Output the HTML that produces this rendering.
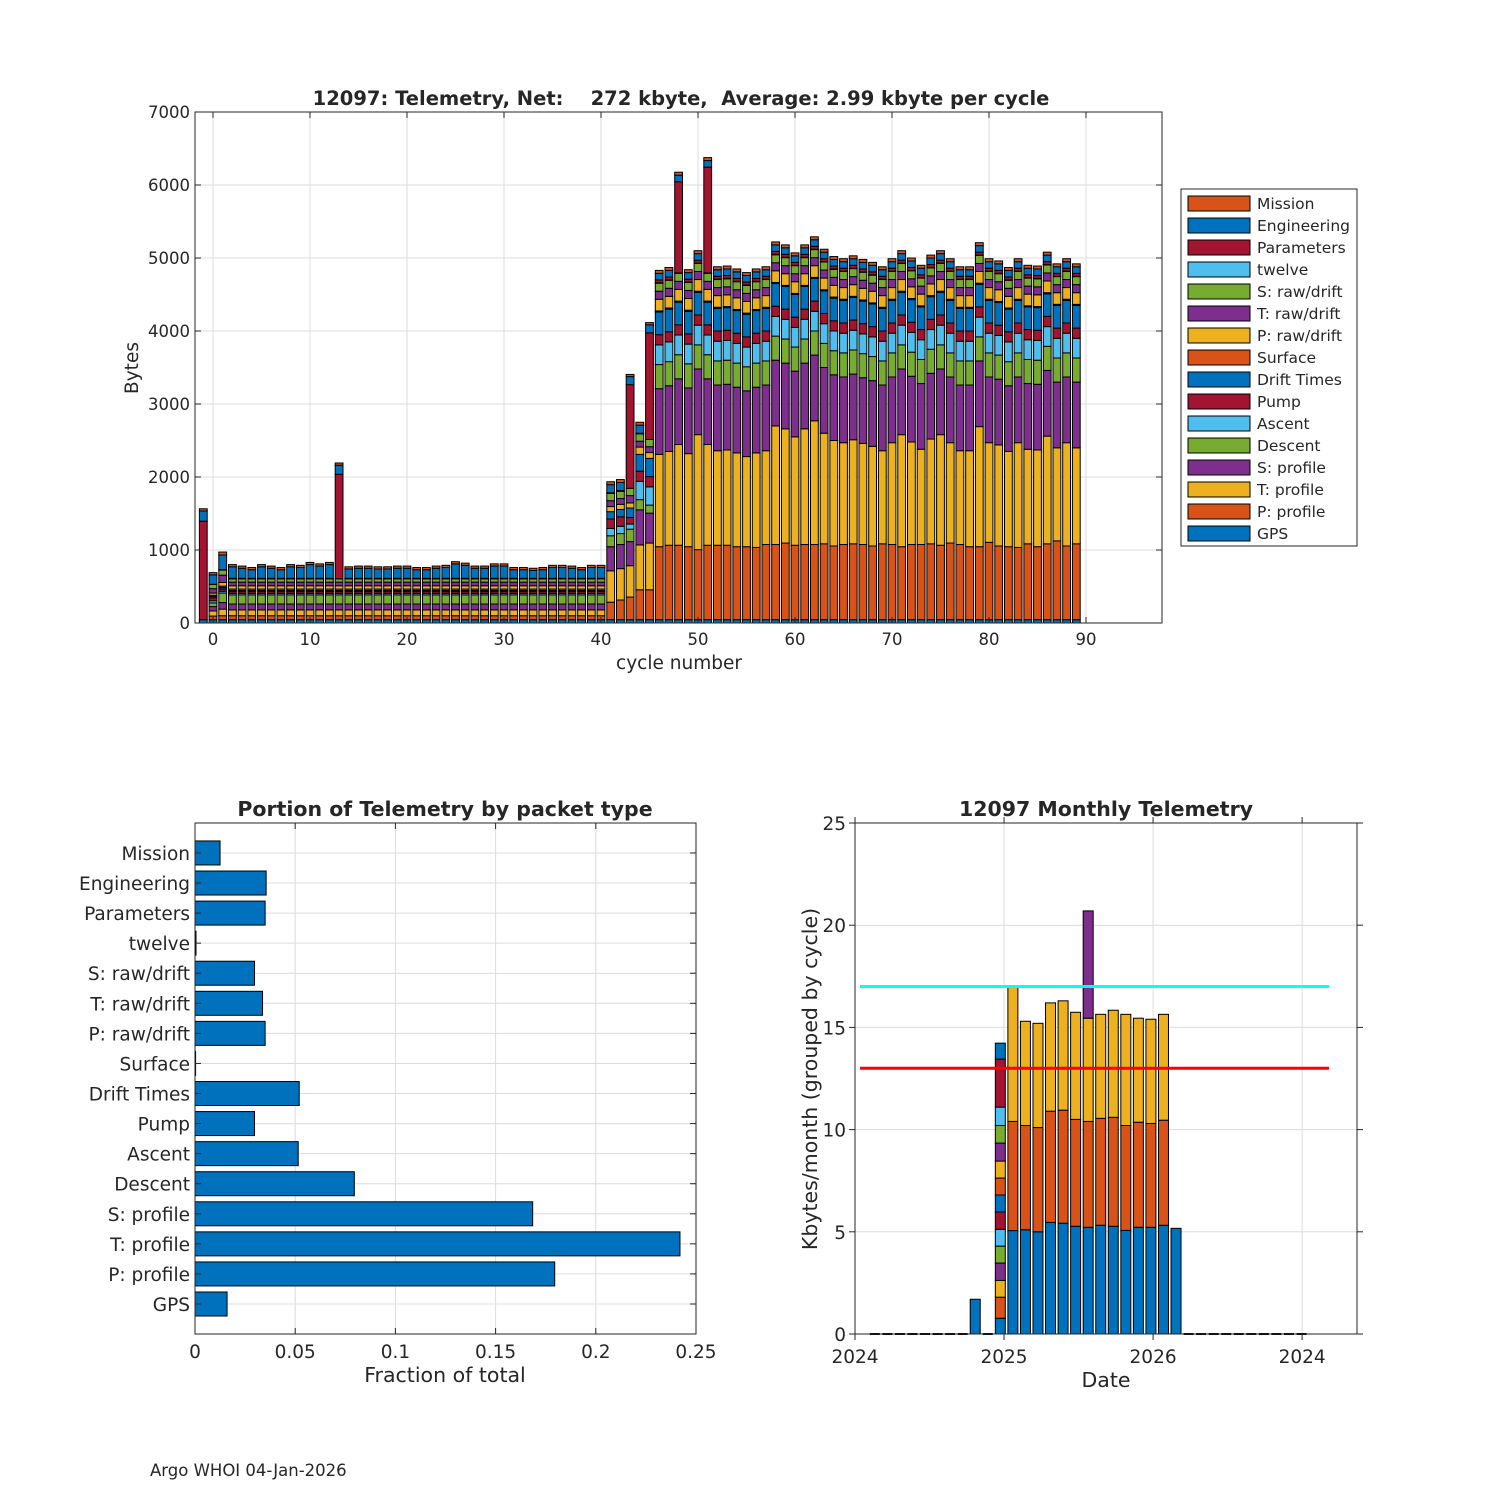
<!DOCTYPE html>
<html><head><meta charset="utf-8"><style>
html,body{margin:0;padding:0;background:#fff}
svg{display:block}
text{font-family:"DejaVu Sans","Liberation Sans",sans-serif;fill:#262626}
</style></head><body>
<svg id="root" width="1500" height="1500" viewBox="0 0 1500 1500" xmlns="http://www.w3.org/2000/svg">
<rect width="1500" height="1500" fill="#fff"/>
<g id="top"></g>
<g id="bl"></g>
<g id="br"></g>
<text x="150" y="1476" font-size="16.5" fill="#000">Argo WHOI 04-Jan-2026</text>
</svg>
<script>
// ===== Top chart data (cycles -1..89) =====
const cycles = [-1,0,1,2,3,4,5,6,7,8,9,10,11,12,13,14,15,16,17,18,19,20,21,22,23,24,25,26,27,28,29,30,31,32,33,34,35,36,37,38,39,40,41,42,43,44,45,46,47,48,49,50,51,52,53,54,55,56,57,58,59,60,61,62,63,64,65,66,67,68,69,70,71,72,73,74,75,76,77,78,79,80,81,82,83,84,85,86,87,88,89];
const seriesNames = ["GPS","P: profile","T: profile","S: profile","Descent","Ascent","Pump","Drift Times","Surface","P: raw/drift","T: raw/drift","S: raw/drift","twelve","Parameters","Engineering","Mission"];
const yTicks = [0,1000,2000,3000,4000,5000,6000,7000];
const xTicks = [0,10,20,30,40,50,60,70,80,90];
const gps = [45,45,45, 45,45,45,45,45,45,45,45,45,45, 45,45,45,45,45,45,45,45,45,45, 45,45,45,45,45,45,45,45,45,45, 45,45,45,45,45,45,45,45,45, 45,45,45,45,45, 45,45,45,45,45,45,45,45,45,45, 45,45,45,45,45,45,45,45,45,45, 45,45,45,45,45,45,45,45,45,45, 45,45,45,45,45,45,45,45,45,45, 45,45,45,45];
const pProfile = [0,50,55, 55,55,55,55,55,55,55,55,55,55, 55,55,55,55,55,55,55,55,55,55, 55,55,55,55,55,55,55,55,55,55, 55,55,55,55,55,55,55,55,55, 240,270,310,410,410, 1000,1020,1020,1000,960,1020,1020,1020,1000,1000, 990,1030,1030,1050,1020,1030,1030,1040,1010,1030, 1040,1030,1010,1040,1030,1000,1030,1030,1040,1020, 1050,1030,1000,1000,1060,1010,1000,990,1040,1000, 1040,1080,1010,1040];
const tProfile = [0,70,90, 80,80,80,80,80,80,80,80,80,80, 80,80,80,80,80,80,80,80,80,80, 80,80,80,80,80,80,80,80,80,80, 80,80,80,80,80,80,80,80,80, 430,430,430,615,640, 1265,1285,1380,1275,1575,1380,1295,1305,1285,1235, 1295,1285,1625,1565,1485,1585,1695,1515,1445,1395, 1425,1385,1365,1275,1395,1535,1405,1305,1435,1515, 1375,1285,1315,1645,1365,1385,1305,1435,1295,1325, 1475,1275,1415,1315];
const sProfile = [0,60,90, 80,80,80,80,80,80,80,80,80,80, 80,80,80,80,80,80,80,80,80,80, 80,80,80,80,80,80,80,80,80,80, 80,80,80,80,80,80,80,80,80, 330,330,330,480,410, 900,900,900,900,900,900,900,900,900,900, 900,900,900,900,900,900,900,900,900,900, 900,900,900,900,900,900,900,900,900,900, 900,900,900,900,900,900,900,900,900,900, 900,900,900,900];
const descent = [0,50,130, 125,125,125,125,125,125,125,125,125,125, 125,125,125,125,125,125,125,125,125,125, 125,125,125,125,125,125,125,125,125,125, 125,125,125,125,125,125,125,125,125, 150,150,170,140,110, 330,330,330,330,330,330,330,330,330,330, 330,330,330,330,330,330,330,330,330,330, 330,330,330,330,330,330,330,330,330,330, 330,330,330,330,330,330,330,330,330,330, 330,330,330,330];
const ascent = [0,30,25, 20,20,20,20,20,20,20,20,20,20, 20,20,20,20,20,20,20,20,20,20, 20,20,20,20,20,20,20,20,20,20, 20,20,20,20,20,20,20,20,20, 100,100,70,250,250, 270,270,270,270,270,270,270,270,270,270, 270,270,270,270,270,270,270,270,270,270, 270,270,270,270,270,270,270,270,270,270, 270,270,270,270,270,270,270,270,270,270, 270,270,270,270];
const pump = [0,40,30, 25,25,25,25,25,25,25,25,25,25, 25,25,25,25,25,25,25,25,25,25, 25,25,25,25,25,25,25,25,25,25, 25,25,25,25,25,25,25,25,25, 130,130,90,140,140, 140,140,140,140,140,140,140,140,140,140, 140,140,140,140,140,140,140,140,140,140, 140,140,140,140,140,140,140,140,140,140, 140,140,140,140,140,140,140,140,140,140, 140,140,140,140];
const driftTimes = [0,20,20, 15,15,15,15,15,15,15,15,15,15, 15,15,15,15,15,15,15,15,15,15, 15,15,15,15,15,15,15,15,15,15, 15,15,15,15,15,15,15,15,15, 100,100,130,230,250, 310,310,310,310,310,310,310,310,310,310, 310,310,310,310,310,310,310,310,310,310, 310,310,310,310,310,310,310,310,310,310, 310,310,310,310,310,310,310,310,310,310, 310,310,310,310];
const surface = [0,15,20, 20,20,20,20,20,20,20,20,20,20, 20,20,20,20,20,20,20,20,20,20, 20,20,20,20,20,20,20,20,20,20, 20,20,20,20,20,20,20,20,20, 0,0,0,0,0, 15,15,15,15,15,15,15,15,15,15, 15,15,15,15,15,15,15,15,15,15, 15,15,15,15,15,15,15,15,15,15, 15,15,15,15,15,15,15,15,15,15, 15,15,15,15];
const pRaw = [0,30,50, 45,45,45,45,45,45,45,45,45,45, 45,45,45,45,45,45,45,45,45,45, 45,45,45,45,45,45,45,45,45,45, 45,45,45,45,45,45,45,45,45, 70,70,70,100,80, 160,160,160,160,160,160,160,160,160,160, 160,160,160,160,160,160,160,160,160,160, 160,160,160,160,160,160,160,160,160,160, 160,160,160,160,160,160,160,160,160,160, 160,160,160,160];
const tRaw = [0,60,100, 50,50,50,50,50,50,50,50,50,50, 50,50,50,50,50,50,50,50,50,50, 50,50,50,50,50,50,50,50,50,50, 50,50,50,50,50,50,50,50,50, 80,80,100,80,80, 110,110,110,110,110,110,110,110,110,110, 110,110,110,110,110,110,110,110,110,110, 110,110,110,110,110,110,110,110,110,110, 110,110,110,110,110,110,110,110,110,110, 110,110,110,110];
const sRaw = [0,60,70, 45,45,45,45,45,45,45,45,45,45, 45,45,45,45,45,45,45,45,45,45, 45,45,45,45,45,45,45,45,45,45, 45,45,45,45,45,45,45,45,45, 100,100,100,100,100, 110,110,110,110,110,110,110,110,110,110, 110,110,110,110,110,110,110,110,110,110, 110,110,110,110,110,110,110,110,110,110, 110,110,110,110,110,110,110,110,110,110, 110,110,110,110];
const twelve = [0,0,2, 2,2,2,2,2,2,2,2,2,2, 2,2,2,2,2,2,2,2,2,2, 2,2,2,2,2,2,2,2,2,2, 2,2,2,2,2,2,2,2,2, 0,0,0,0,0, 5,5,5,5,5,5,5,5,5,5, 5,5,5,5,5,5,5,5,5,5, 5,5,5,5,5,5,5,5,5,5, 5,5,5,5,5,5,5,5,5,5, 5,5,5,5];
const parameters = [1350,0,5, 5,5,5,5,5,5,5,5,5,5, 5,1430,5,5,5,5,5,5,5,5, 5,5,5,5,5,5,5,5,5,5, 5,5,5,5,5,5,5,5,5, 10,10,1420,10,1460, 40,40,1250,40,40,1450,40,40,40,40, 40,40,40,40,40,40,40,40,40,40, 40,40,40,40,40,40,40,40,40,40, 40,40,40,40,40,40,40,40,40,40, 40,40,40,40];
const engineering = [140,130,200, 158,138,118,158,138,118,158,148,188,168, 188,125,128,138,138,128,128,138,138,118, 118,138,148,198,178,138,138,168,168,118, 118,108,118,148,148,138,118,148,148, 110,110,110,110,110, 90,90,90,90,90,90,90,90,90,90, 90,90,90,90,90,90,90,90,90,90, 90,90,90,90,90,90,90,90,90,90, 90,90,90,90,90,90,90,90,90,90, 90,90,90,90];
const mission = [30,30,40, 30,30,30,30,30,30,30,30,30,30, 30,30,30,30,30,30,30,30,30,30, 30,30,30,30,30,30,30,30,30,30, 30,30,30,30,30,30,30,30,30, 40,40,30,40,30, 40,40,40,40,40,40,40,40,40,40, 40,40,40,40,40,40,40,40,40,40, 40,40,40,40,40,40,40,40,40,40, 40,40,40,40,40,40,40,40,40,40, 40,40,40,40];

// ===== Bottom-left data =====
const packetCats = ["GPS","P: profile","T: profile","S: profile","Descent","Ascent","Pump","Drift Times","Surface","P: raw/drift","T: raw/drift","S: raw/drift","twelve","Parameters","Engineering","Mission"];
const packetFrac = [0.016,0.1795,0.242,0.1685,0.0795,0.0515,0.0297,0.052,0.0003,0.035,0.0337,0.0297,0.0005,0.035,0.0355,0.0125];
const fracTicks = [0,0.05,0.1,0.15,0.2,0.25];
const fracTickLabels = ["0","0.05","0.1","0.15","0.2","0.25"];

// ===== Bottom-right data =====
const barMonths = [9,11,12,13,14,15,16,17,18,19,20,21,22,23,24,25];
const zeroMonths = [1,2,3,4,5,6,7,8,10,26,27,28,29,30,31,32,33,34,35];
const mGps = [1.7,0.77,5.06,5.1,5.0,5.46,5.42,5.27,5.22,5.32,5.27,5.07,5.22,5.22,5.32,5.17];
const mP = [0,1.03,5.34,5.1,5.1,5.44,5.53,5.23,5.18,5.23,5.33,5.13,5.14,5.08,5.14,0];
const mT = [0,0.82,6.6,5.1,5.1,5.3,5.35,5.24,5.05,5.09,5.24,5.44,5.09,5.1,5.18,0];
const mS = [0,0.85,0,0,0,0,0,0,5.25,0,0,0,0,0,0,0];
const mDescent = [0,0.83,0,0,0,0,0,0,0,0,0,0,0,0,0,0];
const mAscent = [0,0.82,0,0,0,0,0,0,0,0,0,0,0,0,0,0];
const mPump = [0,0.85,0,0,0,0,0,0,0,0,0,0,0,0,0,0];
const mDrift = [0,0.83,0,0,0,0,0,0,0,0,0,0,0,0,0,0];
const mSurface = [0,0.83,0,0,0,0,0,0,0,0,0,0,0,0,0,0];
const mPRaw = [0,0.83,0,0,0,0,0,0,0,0,0,0,0,0,0,0];
const mTRaw = [0,0.88,0,0,0,0,0,0,0,0,0,0,0,0,0,0];
const mSRaw = [0,0.86,0,0,0,0,0,0,0,0,0,0,0,0,0,0];
const mTwelve = [0,0.9,0,0,0,0,0,0,0,0,0,0,0,0,0,0];
const mParams = [0,2.35,0,0,0,0,0,0,0,0,0,0,0,0,0,0];
const mEng = [0,0.78,0,0,0,0,0,0,0,0,0,0,0,0,0,0];
const mMission = [0,0,0,0,0,0,0,0,0,0,0,0,0,0,0,0];
const refLines = [17,13];
const kTicks = [0,5,10,15,20,25];
const dateTickMonths = [0,12,24,36];
const dateTickLabels = ["2024","2025","2026","2024"];

const colors = ["#0072BD","#D95319","#EDB120","#7E2F8E","#77AC30","#4DBEEE","#A2142F","#0072BD","#D95319","#EDB120","#7E2F8E","#77AC30","#4DBEEE","#A2142F","#0072BD","#D95319"];
const NS = "http://www.w3.org/2000/svg";
function mk(tag, attrs, parent){const e=document.createElementNS(NS,tag);for(const k in attrs)e.setAttribute(k,attrs[k]);parent.appendChild(e);return e;}
function txt(s, attrs, parent){const e=mk("text",attrs,parent);e.textContent=s;return e;}

// ---------- TOP CHART ----------
(function(){
  const g=document.getElementById("top");
  const L=195,R=1162,T=112,B=623;
  const xs=c=>213+c*9.7;
  const ys=v=>B-v*(B-T)/7000;
  const allSeries=[gps,pProfile,tProfile,sProfile,descent,ascent,pump,driftTimes,surface,pRaw,tRaw,sRaw,twelve,parameters,engineering,mission];
  xTicks.forEach(t=>{const l=mk("line",{x1:xs(t),x2:xs(t),y1:T,y2:B,stroke:"#dcdcdc","stroke-width":1},g);});
  yTicks.forEach(t=>{const l=mk("line",{x1:L,x2:R,y1:ys(t),y2:ys(t),stroke:"#dcdcdc","stroke-width":1},g);});
  const bw=7.8;
  cycles.forEach((c,i)=>{
    let acc=0;
    const bg=mk("g",{},g);
    
    
    allSeries.forEach((s,k)=>{
      const v=s[i]; if(!v) return;
      const y0=ys(acc), y1=ys(acc+v);
      const r=mk("rect",{x:xs(c)-bw/2,y:y1,width:bw,height:y0-y1,fill:colors[k],stroke:"#000","stroke-width":1},bg);
      
      
      acc+=v;
    });
  });
  const bx=mk("rect",{x:L,y:T,width:R-L,height:B-T,fill:"none",stroke:"#262626","stroke-width":1},g);
  
  
  xTicks.forEach(t=>{
    mk("line",{x1:xs(t),x2:xs(t),y1:B,y2:B-6,stroke:"#262626"},g);
    mk("line",{x1:xs(t),x2:xs(t),y1:T,y2:T+6,stroke:"#262626"},g);
    const e=txt(String(t),{x:xs(t),y:B+22,"font-size":16.5,"text-anchor":"middle"},g);
    
    
  });
  yTicks.forEach(t=>{
    mk("line",{x1:L,x2:L+6,y1:ys(t),y2:ys(t),stroke:"#262626"},g);
    mk("line",{x1:R,x2:R-6,y1:ys(t),y2:ys(t),stroke:"#262626"},g);
    const e=txt(String(t),{x:L-5,y:ys(t)+6,"font-size":16.5,"text-anchor":"end"},g);
    
    
  });
  let e=txt("cycle number",{x:679,y:669,"font-size":18.5,"text-anchor":"middle"},g);
  
  e=txt("Bytes",{x:0,y:0,"font-size":18.5,"text-anchor":"middle",transform:"translate(138,368) rotate(-90)"},g);
  
  e=txt("12097: Telemetry, Net:    272 kbyte,  Average: 2.99 kbyte per cycle",{x:681,y:105,"font-size":19.5,"font-weight":"bold","text-anchor":"middle",fill:"#000"},g);
  e.style.whiteSpace="pre";
  
  const lg=mk("g",{},g);
  
  
  mk("rect",{x:1181,y:189,width:176,height:357,fill:"#fff",stroke:"#262626","stroke-width":1},lg);
  for(let j=0;j<16;j++){
    const k=15-j; const y=203+j*22;
    const it=mk("g",{},lg);
    
    
    mk("rect",{x:1188,y:y-7,width:62,height:15,fill:colors[k],stroke:"#000","stroke-width":1},it);
    txt(seriesNames[k],{x:1257,y:y+6,"font-size":15.5},it);
  }
})();

// ---------- BOTTOM-LEFT ----------
(function(){
  const g=document.getElementById("bl");
  const L=195,R=696,T=823,B=1334;
  const xs=v=>L+v*(R-L)/0.25;
  const yc=k=>1304-k*30.07;
  fracTicks.forEach(t=>{const l=mk("line",{x1:xs(t),x2:xs(t),y1:T,y2:B,stroke:"#dcdcdc"},g);});
  packetCats.forEach((c,k)=>{const l=mk("line",{x1:L,x2:R,y1:yc(k),y2:yc(k),stroke:"#dcdcdc"},g);});
  packetCats.forEach((c,k)=>{
    const w=xs(packetFrac[k])-L;
    const r=mk("rect",{x:L,y:yc(k)-12,width:Math.max(w,0.5),height:24,fill:"#0072BD",stroke:"#000","stroke-width":1},g);
    
    
    mk("line",{x1:L,x2:L+6,y1:yc(k),y2:yc(k),stroke:"#262626"},g);
    mk("line",{x1:R,x2:R-6,y1:yc(k),y2:yc(k),stroke:"#262626"},g);
    const e=txt(c,{x:L-5,y:yc(k)+7,"font-size":18.5,"text-anchor":"end"},g);
    
    
  });
  const bx=mk("rect",{x:L,y:T,width:R-L,height:B-T,fill:"none",stroke:"#262626"},g);
  
  fracTicks.forEach((t,i)=>{
    mk("line",{x1:xs(t),x2:xs(t),y1:B,y2:B-6,stroke:"#262626"},g);
    mk("line",{x1:xs(t),x2:xs(t),y1:T,y2:T+6,stroke:"#262626"},g);
    const e=txt(fracTickLabels[i],{x:xs(t),y:B+24,"font-size":18.5,"text-anchor":"middle"},g);
    
  });
  let e=txt("Fraction of total",{x:445,y:1382,"font-size":20.5,"text-anchor":"middle"},g);
  
  e=txt("Portion of Telemetry by packet type",{x:445,y:816,"font-size":20.5,"font-weight":"bold","text-anchor":"middle",fill:"#000"},g);
  
})();

// ---------- BOTTOM-RIGHT ----------
(function(){
  const g=document.getElementById("br");
  const L=855,R=1357,T=823,B=1334;
  const xm=m=>856+12.55*(m+0.5);
  const xt=m=>855+12.42*m;
  const ys=v=>B-v*(B-T)/25;
  dateTickMonths.forEach(m=>{const l=mk("line",{x1:xt(m),x2:xt(m),y1:T,y2:B,stroke:"#dcdcdc"},g);});
  kTicks.forEach(t=>{const l=mk("line",{x1:L,x2:R,y1:ys(t),y2:ys(t),stroke:"#dcdcdc"},g);});
  const mSeries=[mGps,mP,mT,mS,mDescent,mAscent,mPump,mDrift,mSurface,mPRaw,mTRaw,mSRaw,mTwelve,mParams,mEng,mMission];
  const bw=10;
  zeroMonths.forEach(m=>{
    const l=mk("line",{x1:xm(m)-bw/2,x2:xm(m)+bw/2,y1:B,y2:B,stroke:"#000","stroke-width":2},g);
    
  });
  barMonths.forEach((m,i)=>{
    let acc=0;
    const bg=mk("g",{},g);
    
    
    mSeries.forEach((s,k)=>{
      const v=s[i]; if(!v) return;
      const y0=ys(acc),y1=ys(acc+v);
      const r=mk("rect",{x:xm(m)-bw/2,y:y1,width:bw,height:y0-y1,fill:colors[k],stroke:"#000","stroke-width":1},bg);
      
      
      acc+=v;
    });
  });
  const lineCols=["#00FFFF","#FF0000"];
  refLines.forEach((v,i)=>{
    const l=mk("line",{x1:860,x2:1329,y1:ys(v),y2:ys(v),stroke:lineCols[i],"stroke-width":3},g);
    
    
  });
  const bx=mk("rect",{x:L,y:T,width:R-L,height:B-T,fill:"none",stroke:"#262626"},g);
  
  kTicks.forEach(t=>{
    mk("line",{x1:L,x2:L-6,y1:ys(t),y2:ys(t),stroke:"#262626"},g);
    mk("line",{x1:R,x2:R+6,y1:ys(t),y2:ys(t),stroke:"#262626"},g);
    const e=txt(String(t),{x:L-9,y:ys(t)+7,"font-size":18.5,"text-anchor":"end"},g);
    
  });
  dateTickMonths.forEach((m,i)=>{
    mk("line",{x1:xt(m),x2:xt(m),y1:B,y2:B+6,stroke:"#262626"},g);
    mk("line",{x1:xt(m),x2:xt(m),y1:T,y2:T-6,stroke:"#262626"},g);
    const e=txt(dateTickLabels[i],{x:xt(m),y:B+29,"font-size":18.5,"text-anchor":"middle"},g);
    
  });
  let e=txt("Date",{x:1106,y:1387,"font-size":20.5,"text-anchor":"middle"},g);
  
  e=txt("Kbytes/month (grouped by cycle)",{x:0,y:0,"font-size":20.5,"text-anchor":"middle",transform:"translate(817,1079) rotate(-90)"},g);
  
  e=txt("12097 Monthly Telemetry",{x:1106,y:816,"font-size":20.5,"font-weight":"bold","text-anchor":"middle",fill:"#000"},g);
  
})();
</script>
</body></html>
